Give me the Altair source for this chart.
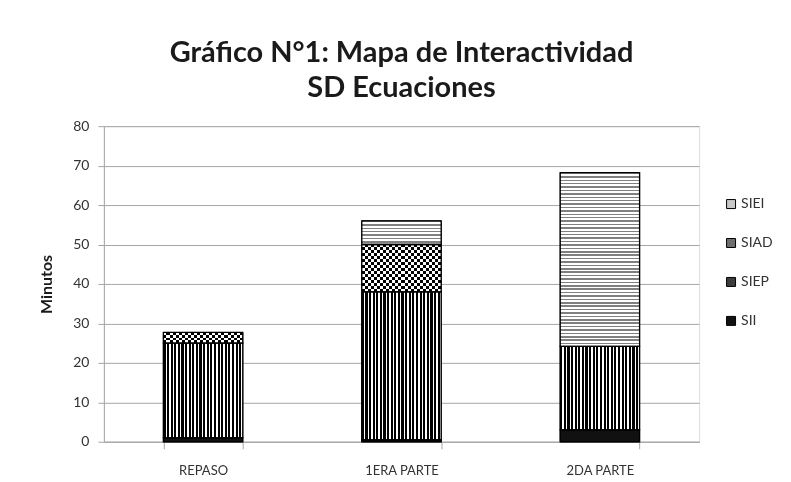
import altair as alt
import pandas as pd

categories = ["REPASO", "1ERA PARTE", "2DA PARTE"]
series = ["SII", "SIEP", "SIAD", "SIEI"]
SII = [1.0, 0.5, 3.0]
SIEP = [24.0, 37.5, 21.2]
SIAD = [2.7, 12.0, 0.0]
SIEI = [0.0, 6.0, 44.0]
y_ticks = [0, 10, 20, 30, 40, 50, 60, 70, 80]

values = {"SII": SII, "SIEP": SIEP, "SIAD": SIAD, "SIEI": SIEI}
rows = []
for i, c in enumerate(categories):
    acc = 0.0
    for s in series:
        v = values[s][i]
        if v > 0:
            rows.append({"cat": c, "serie": s, "valor": v, "start": acc, "end": acc + v})
        acc += v
df = pd.DataFrame(rows)

W, H = 596, 316
FONT = "Lato"
GRID = "#a6a6a6"


def stripes(n, dark, light, duty, vertical):
    stops = []
    for i in range(n):
        a = i / n
        b = (i + duty) / n
        c = (i + 1) / n
        stops += [alt.GradientStop(offset=a, color=dark), alt.GradientStop(offset=b, color=dark),
                  alt.GradientStop(offset=b, color=light), alt.GradientStop(offset=c, color=light)]
    if vertical:
        return alt.LinearGradient(gradient="linear", stops=stops, x1=0, x2=1, y1=0, y2=0)
    return alt.LinearGradient(gradient="linear", stops=stops, x1=0, x2=0, y1=0, y2=1)


base = alt.Chart(df).encode(
    x=alt.X("cat:N", sort=categories, title=None,
            scale=alt.Scale(paddingInner=0.6, paddingOuter=0.3),
            axis=alt.Axis(labelAngle=0, labelFont=FONT, labelFontSize=13, labelColor="#333333",
                          tickBand="extent", tickColor=GRID, tickSize=7, domainColor=GRID,
                          labelPadding=16, grid=False)),
    y=alt.Y("start:Q", title="Minutos",
            scale=alt.Scale(domain=[0, 80], nice=False),
            axis=alt.Axis(values=y_ticks, labelFont=FONT, labelFontSize=14, labelColor="#333333",
                          titleFont=FONT, titleFontSize=16, titleFontWeight="bold", titleColor="#1a1a1a",
                          titlePadding=18, tickColor=GRID, tickSize=6, labelPadding=9,
                          domainColor=GRID, gridColor=GRID)),
    y2="end:Q",
)

colored = base.mark_bar(stroke="black", strokeWidth=1).encode(
    color=alt.Color("serie:N",
                    scale=alt.Scale(domain=["SIEI", "SIAD", "SIEP", "SII"],
                                    range=["#c8c8c8", "#6e6e6e", "#3c3c3c", "#111111"]),
                    legend=alt.Legend(title=None, orient="none", legendX=621, legendY=71,
                                      symbolType="square", symbolSize=81, symbolStrokeColor="black",
                                      symbolStrokeWidth=1, labelFont=FONT, labelFontSize=14,
                                      labelColor="#333333", rowPadding=25, labelOffset=3))
)

layers = [colored]

# SIEP: vertical stripes
layers.append(base.transform_filter(alt.datum.serie == "SIEP").mark_bar(
    fill=stripes(22, "#000000", "#ffffff", 0.6, True)))

px_per_unit = H / 80.0
# SIAD: checkerboard (vertical stripes xor horizontal stripes)
layers.append(base.transform_filter(alt.datum.serie == "SIAD").mark_bar(
    fill=stripes(13, "#000000", "#ffffff", 0.5, True)))
for i, c in enumerate(categories):
    v = SIAD[i]
    if v > 0:
        n = max(1, round(v * px_per_unit / 6.0))
        layers.append(base.transform_filter(
            (alt.datum.serie == "SIAD") & (alt.datum.cat == c)).mark_bar(
            fill=stripes(n, "#ffffff", "#000000", 0.5, False), blend="difference"))

# SIEI: wavy light pattern approximated with thin lines
for i, c in enumerate(categories):
    v = SIEI[i]
    if v > 0:
        n = max(1, round(v * px_per_unit / 3.4))
        layers.append(base.transform_filter(
            (alt.datum.serie == "SIEI") & (alt.datum.cat == c)).mark_bar(
            fill=stripes(n, "#808080", "#ffffff", 0.45, False)))

# outlines
layers.append(base.mark_bar(fillOpacity=0, stroke="black", strokeWidth=1.3))

chart = alt.layer(*layers).properties(
    width=W, height=H,
    padding={"left": 30, "top": 31, "right": 10, "bottom": 5},
    title=alt.Title(["Gráfico N°1: Mapa de Interactividad", "SD Ecuaciones"],
                    font=FONT, fontSize=29, fontWeight="bold", color="#1a1a1a",
                    lineHeight=35, anchor="middle", offset=16),
).configure_view(strokeWidth=0).configure(background="white")

chart.save("out.html", embed_options={"renderer": "svg", "actions": False})
